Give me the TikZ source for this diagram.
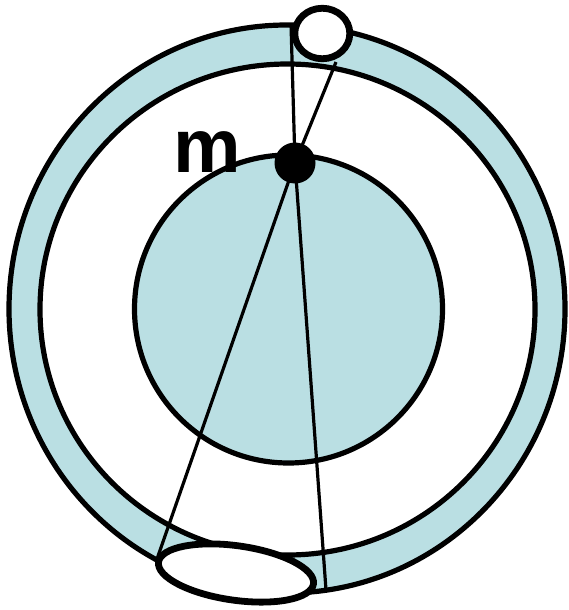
\documentclass[tikz,border=0pt]{standalone}
\usepackage{fontspec}
\setmainfont{Liberation Sans}
\usetikzlibrary{shapes.geometric}
\definecolor{shell}{RGB}{186,223,227}
\tikzset{
  ring/.style={line width=5.2pt},
  ray/.style={line width=3.2pt},
  hole/.style={ellipse,draw,fill=white,inner sep=0pt,line width=6.8pt},
}
\begin{document}
\begin{tikzpicture}[x=1pt,y=-1pt]
\useasboundingbox (0,0) rectangle (569,610);
% shell between the two ellipses
\fill[shell,even odd rule] (287,309) ellipse [x radius=278,y radius=284]
                           (287.5,309.5) ellipse [x radius=247.5,y radius=245.5];
\draw[ring] (287,309) ellipse [x radius=278,y radius=284];
\draw[ring] (287.5,309.5) ellipse [x radius=247.5,y radius=245.5];
% core
\draw[ring,fill=shell] (288.5,309) circle [radius=154];
% rays
\node[circle,fill=black,inner sep=0pt,minimum size=41pt] (m) at (295,163) {};
\coordinate (tl) at (291,24);
\coordinate (tr) at (336,62);
\coordinate (bl) at (157,559);
\coordinate (br) at (326,590);
\draw[ray] (tl) -- (m.center) -- (tr);
\draw[ray] (bl) -- (m.center) -- (br);
\node[hole,minimum width=55pt,minimum height=50.5pt] (top) at (322.3,33.5) {};
\node[hole,minimum width=156.5pt,minimum height=54.5pt,rotate=-8] (bottom) at (236,573) {};
\node[inner sep=0pt,font=\bfseries\fontsize{76}{80}\selectfont] (mlabel) at (207.5,152.5) {m};
\end{tikzpicture}
\end{document}
